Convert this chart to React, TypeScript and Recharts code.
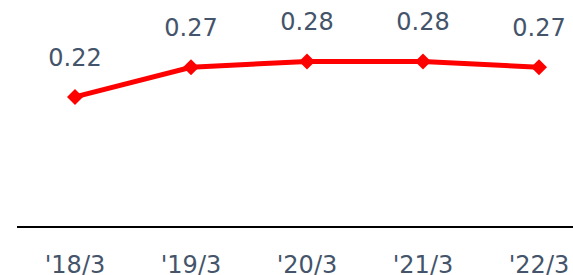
import React from 'react';
import { LineChart, Line, XAxis, YAxis, LabelList } from 'recharts';

const periods = ["'18/3", "'19/3", "'20/3", "'21/3", "'22/3"];
const ratio = [0.22, 0.27, 0.28, 0.28, 0.27];

const data = periods.map((p, i) => ({ period: p, ratio: ratio[i] }));

const FONT = '"DejaVu Sans", Verdana, sans-serif';
const TEXT = '#44546a';

const Diamond = (props: any) => {
    const { cx, cy } = props;
    if (cx == null || cy == null) return null;
    const r = 8;
    return (
        <polygon
            key={`d-${cx}`}
            points={`${cx},${cy - r} ${cx + r},${cy} ${cx},${cy + r} ${cx - r},${cy}`}
            fill="#ff0000"
        />
    );
};

export default function App() {
    return (
        <div style={{ position: 'fixed', left: 0, top: 0, width: 573, height: 275, overflow: 'hidden', background: '#fff' }}>
            <LineChart width={597} height={275} data={data} margin={{ top: 20, right: 0, bottom: 0, left: 17 }}>
                <XAxis
                    dataKey="period"
                    axisLine={{ stroke: '#000', strokeWidth: 2 }}
                    tickLine={false}
                    height={48}
                    interval={0}
                    padding={{ left: 58, right: 58 }}
                    dy={21}
                    tick={{ fill: TEXT, fontSize: 24, fontFamily: FONT }}
                />
                <YAxis hide domain={[0, 0.35]} />
                <Line
                    type="linear"
                    dataKey="ratio"
                    stroke="#ff0000"
                    strokeWidth={5}
                    dot={Diamond}
                    activeDot={false}
                    isAnimationActive={false}
                >
                    <LabelList
                        dataKey="ratio"
                        position="top"
                        offset={31}
                        formatter={(v: any) => Number(v).toFixed(2)}
                        style={{ fill: TEXT, fontSize: 24, fontFamily: FONT }}
                    />
                </Line>
            </LineChart>
        </div>
    );
}
